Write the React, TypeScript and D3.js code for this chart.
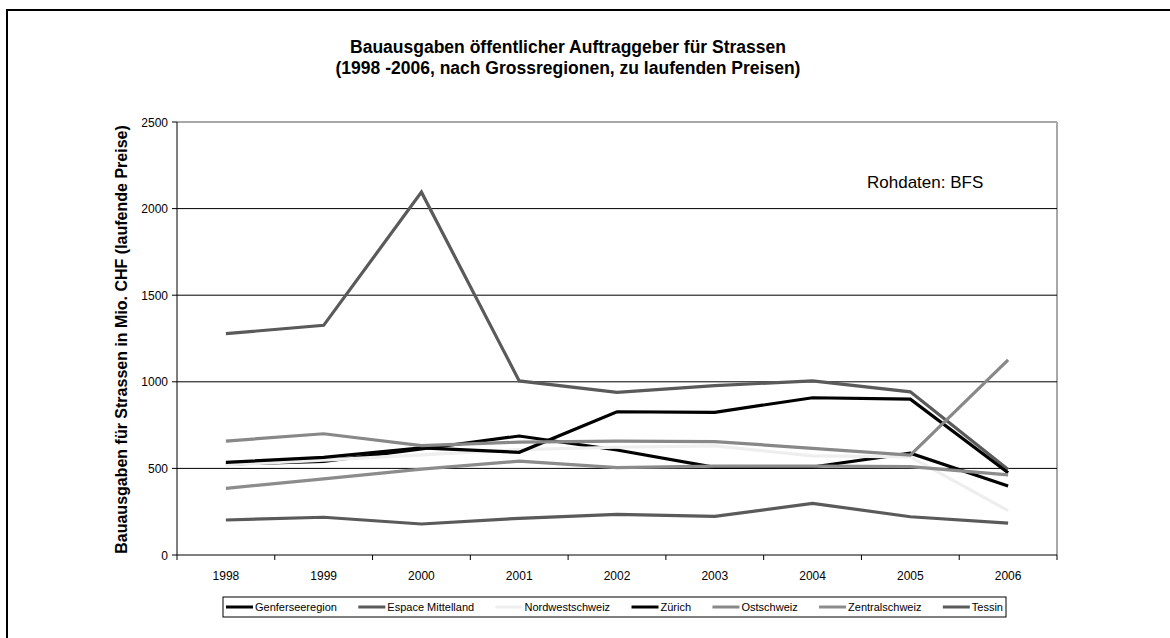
import React from "react";
import * as d3 from "d3";

const years = ["1998", "1999", "2000", "2001", "2002", "2003", "2004", "2005", "2006"];
const seriesNames = ["Genferseeregion", "Espace Mittelland", "Nordwestschweiz", "Zürich", "Ostschweiz", "Zentralschweiz", "Tessin"];
const genferseeregion = [525, 540, 612, 687, 606, 506, 508, 588, 398];
const espaceMittelland = [1278, 1326, 2095, 1005, 939, 978, 1005, 942, 494];
const nordwestschweiz = [520, 548, 578, 608, 622, 630, 572, 566, 256];
const zuerich = [535, 564, 618, 593, 827, 824, 908, 900, 475];
const ostschweiz = [658, 700, 631, 652, 658, 655, 616, 577, 1126];
const zentralschweiz = [385, 439, 496, 542, 504, 513, 513, 510, 463];
const tessin = [202, 218, 179, 212, 235, 223, 298, 221, 184];
const seriesColors = ["#000000", "#5a5a5a", "#eeeeee", "#000000", "#888888", "#8c8c8c", "#5a5a5a"];
const yTicks = [0, 500, 1000, 1500, 2000, 2500];

const allSeries = [genferseeregion, espaceMittelland, nordwestschweiz, zuerich, ostschweiz, zentralschweiz, tessin];

function measure(text: string, font: string): number {
  const c = document.createElement("canvas");
  const ctx = c.getContext("2d");
  if (!ctx) return text.length * 6;
  ctx.font = font;
  return ctx.measureText(text).width;
}

export default function App() {
  const W = 1170, H = 638;
  const left = 177, right = 1057, top = 122, bottom = 555;
  const x = d3.scaleBand().domain(years).range([left, right]);
  const y = d3.scaleLinear().domain([0, 2500]).range([bottom, top]);
  const line = d3.line<number>()
    .x((_, i) => (x(years[i]) as number) + x.bandwidth() / 2)
    .y((d) => y(d));

  const font = "Arial, 'Liberation Sans', Helvetica, sans-serif";
  const legFontSize = 11;
  const sampleW = 27;
  const textWidths = seriesNames.map((n) => measure(n, `${legFontSize}px Arial, 'Liberation Sans'`));
  const boxL = 223, boxR = 1006;
  const pad = 3;
  const used = textWidths.reduce((a, b) => a + b, 0) + seriesNames.length * (sampleW + 2);
  const gap = (boxR - boxL - 2 * pad - used) / (seriesNames.length - 1);
  let cx = boxL + pad;
  const legendItems = seriesNames.map((n, i) => {
    const item = { name: n, x: cx, color: seriesColors[i] };
    cx += sampleW + 2 + textWidths[i] + gap;
    return item;
  });

  const boundaries = years.map((yr) => x(yr) as number).concat([right]);

  return (
    <svg width={W} height={H} style={{ position: "absolute", left: 0, top: 0, background: "#fff" }} fontFamily={font}>
      <rect x={0} y={0} width={W} height={H} fill="#fff" />
      <rect x={7} y={10} width={W + 20} height={H + 20} fill="none" stroke="#000" strokeWidth={2} />
      <text x={568} y={53} textAnchor="middle" fontWeight="bold" fontSize={17.5}>Bauausgaben öffentlicher Auftraggeber für Strassen</text>
      <text x={568} y={74} textAnchor="middle" fontWeight="bold" fontSize={17.5}>(1998 -2006, nach Grossregionen, zu laufenden Preisen)</text>
      {/* plot border top/right */}
      <line x1={left} x2={right} y1={top} y2={top} stroke="#a8a8a8" strokeWidth={2} />
      <line x1={right} x2={right} y1={top} y2={bottom} stroke="#a8a8a8" strokeWidth={2} />
      {yTicks.filter((t) => t > 0 && t < 2500).map((t) => (
        <line key={t} x1={left} x2={right} y1={y(t)} y2={y(t)} stroke="#000" strokeWidth={1} />
      ))}
      {yTicks.map((t) => (
        <g key={"yt" + t}>
          <line x1={left - 5} x2={left} y1={y(t)} y2={y(t)} stroke="#000" strokeWidth={1} />
          <text x={left - 9} y={y(t) + 4.5} textAnchor="end" fontSize={12}>{t}</text>
        </g>
      ))}
      {boundaries.map((b, i) => (
        <line key={"xt" + i} x1={b} x2={b} y1={bottom} y2={bottom + 5} stroke="#000" strokeWidth={1} />
      ))}
      {years.map((yr) => (
        <text key={yr} x={(x(yr) as number) + x.bandwidth() / 2} y={580} textAnchor="middle" fontSize={12}>{yr}</text>
      ))}
      <line x1={left} x2={left} y1={top} y2={bottom} stroke="#000" strokeWidth={1} />
      <line x1={left} x2={right} y1={bottom} y2={bottom} stroke="#000" strokeWidth={1} />
      <text transform={`translate(127, ${(top + bottom) / 2 + 1}) rotate(-90)`} textAnchor="middle" fontWeight="bold" fontSize={16}>Bauausgaben für Strassen in Mio. CHF (laufende Preise)</text>
      {allSeries.map((s, i) => (
        <path key={i} d={line(s) || ""} fill="none" stroke={seriesColors[i]} strokeWidth={3.2} strokeLinejoin="miter" />
      ))}
      <text x={867} y={188} fontSize={17}>Rohdaten: BFS</text>
      <rect x={boxL} y={597} width={boxR - boxL} height={20} fill="#fff" stroke="#000" strokeWidth={1} />
      {legendItems.map((it) => (
        <g key={it.name}>
          <line x1={it.x} x2={it.x + sampleW} y1={607} y2={607} stroke={it.color} strokeWidth={3} />
          <text x={it.x + sampleW + 2} y={611} fontSize={legFontSize}>{it.name}</text>
        </g>
      ))}
    </svg>
  );
}
